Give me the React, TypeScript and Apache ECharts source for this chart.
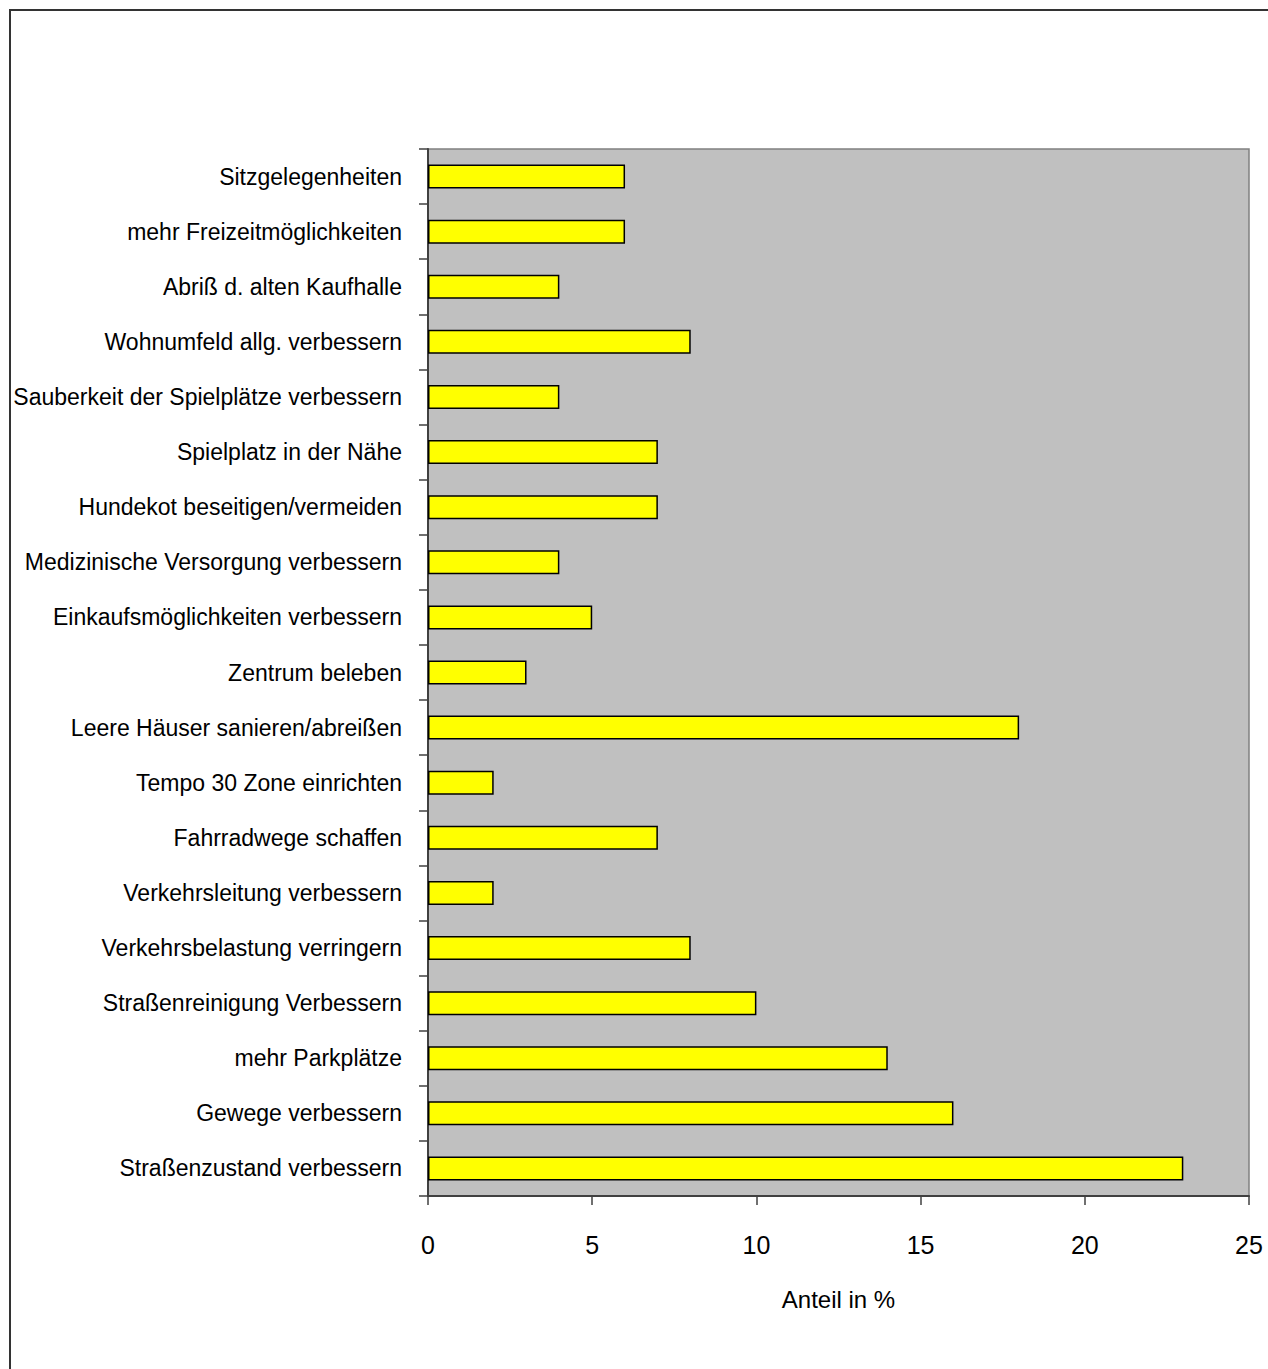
import React, { useEffect, useRef } from "react";
import * as echarts from "echarts";

const categories = [
  "Sitzgelegenheiten",
  "mehr Freizeitmöglichkeiten",
  "Abriß d. alten Kaufhalle",
  "Wohnumfeld allg. verbessern",
  "Sauberkeit der Spielplätze verbessern",
  "Spielplatz in der Nähe",
  "Hundekot beseitigen/vermeiden",
  "Medizinische Versorgung verbessern",
  "Einkaufsmöglichkeiten verbessern",
  "Zentrum beleben",
  "Leere Häuser sanieren/abreißen",
  "Tempo 30 Zone einrichten",
  "Fahrradwege schaffen",
  "Verkehrsleitung verbessern",
  "Verkehrsbelastung verringern",
  "Straßenreinigung Verbessern",
  "mehr Parkplätze",
  "Gewege verbessern",
  "Straßenzustand verbessern",
];

const values = [6, 6, 4, 8, 4, 7, 7, 4, 5, 3, 18, 2, 7, 2, 8, 10, 14, 16, 23];

const xTicks = [0, 5, 10, 15, 20, 25];
const axisName = "Anteil in %";

const FONT = "'Liberation Sans', Arial, sans-serif";

export default function App() {
  const ref = useRef<HTMLDivElement>(null);
  useEffect(() => {
    document.body.style.margin = "0";
    const chart = echarts.init(ref.current!, null, { renderer: "svg" });
    const cats = [...categories].reverse();
    const vals = [...values].reverse();
    chart.setOption({
      animation: false,
      backgroundColor: "#ffffff",
      graphic: [
        {
          type: "rect",
          shape: { x: 10, y: 10, width: 1300, height: 1400 },
          style: { fill: "none", stroke: "#333333", lineWidth: 2 },
          silent: true,
        },
      ],
      grid: {
        left: 428,
        top: 149,
        right: 19,
        bottom: 173,
        containLabel: false,
        outerBoundsMode: "none",
        show: true,
        backgroundColor: "#C0C0C0",
        borderColor: "#808080",
        borderWidth: 1.5,
      },
      xAxis: {
        type: "value",
        min: xTicks[0],
        max: xTicks[xTicks.length - 1],
        interval: 5,
        name: axisName,
        nameLocation: "middle",
        nameGap: 91,
        nameTextStyle: { fontFamily: FONT, fontSize: 24, color: "#000" },
        axisLine: { show: true, lineStyle: { color: "#404040", width: 2 } },
        axisTick: { show: true, length: 9, lineStyle: { color: "#404040", width: 1.5 } },
        axisLabel: { fontFamily: FONT, fontSize: 25, color: "#000", margin: 36 },
        splitLine: { show: false },
      },
      yAxis: {
        type: "category",
        data: cats,
        axisLine: { show: true, lineStyle: { color: "#404040", width: 2 } },
        axisTick: { show: true, length: 9, inside: false, lineStyle: { color: "#404040", width: 1.5 } },
        axisLabel: { fontFamily: FONT, fontSize: 23, color: "#000", margin: 26 },
      },
      series: [
        {
          type: "bar",
          data: vals,
          barWidth: 24,
          itemStyle: { color: "#FFFF00", borderColor: "#000", borderWidth: 1.5 },
        },
      ],
    });
    return () => chart.dispose();
  }, []);
  return (
    <div
      ref={ref}
      style={{ position: "absolute", left: 0, top: 0, width: 1268, height: 1369 }}
    />
  );
}
